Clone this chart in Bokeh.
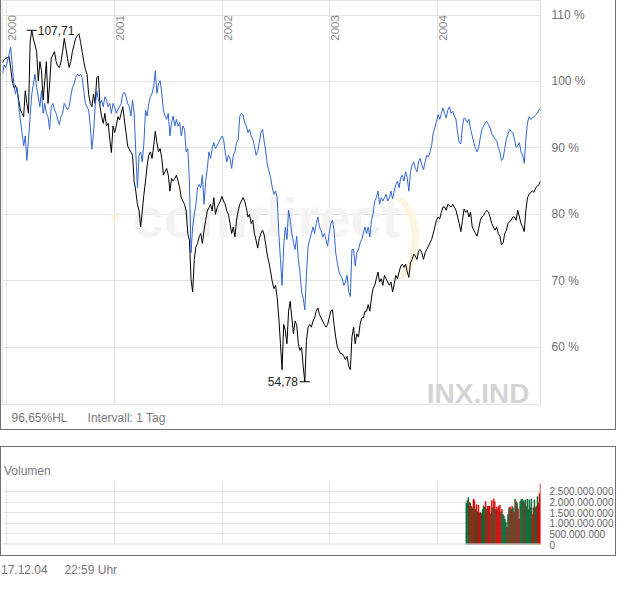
import numpy as np
import pandas as pd
from math import pi
from bokeh.plotting import figure
from bokeh.models import (Range1d, LinearAxis, DatetimeAxis, FixedTicker, CustomJSTickFormatter,
                          Label, Span, Div, Spacer, Title)
from bokeh.layouts import column
from bokeh.embed import file_html
from bokeh.resources import INLINE
from bokeh.core.properties import value

# ---------------- data ----------------
START = "1999-12-17"
END = "2004-12-17"

# INX.IND (black), percent of start
black = [
    102.8, 103.3, 103.5, 103.6, 103.8, 102.1, 100.1, 99.1, 99.4, 98.6,
    97.2, 95.7, 95.2, 94.7, 98.6, 96.7, 95.2, 106.0, 107.71, 106.4,
    105.5, 104.5, 100.1, 103.0, 101.6, 97.2, 100.1, 103.0, 96.7, 99.6,
    103.5, 104.0, 104.5, 103.0, 102.3, 102.1, 103.0, 104.5, 106.5, 105.0,
    103.5, 102.1, 103.0, 104.5, 105.5, 106.5, 106.9, 107.2, 106.0, 104.5,
    103.0, 101.8, 101.1, 98.1, 96.7, 96.2, 98.1, 96.7, 100.6, 100.8,
    96.2, 94.7, 93.7, 95.2, 93.3, 93.7, 91.3, 89.3, 93.3, 92.3,
    93.3, 94.7, 94.2, 95.2, 96.2, 94.2, 92.3, 90.3, 89.8, 89.4,
    88.9, 85.0, 83.5, 81.5, 80.5, 78.1, 80.5, 83.0, 85.0, 87.4,
    88.9, 89.4, 88.4, 90.3, 92.5, 90.8, 89.4, 89.9, 88.4, 85.9,
    86.4, 86.9, 85.9, 83.5, 85.4, 85.0, 85.4, 85.9, 85.0, 84.0,
    82.5, 82.0, 81.5, 80.5, 77.1, 76.1, 70.2, 68.3, 73.2, 75.1,
    75.6, 76.6, 77.1, 75.6, 77.6, 79.1, 80.5, 81.0, 81.5, 80.5,
    82.5, 80.0, 81.0, 81.5, 82.0, 82.7, 82.0, 81.5, 80.5, 80.0,
    78.6, 77.1, 78.1, 76.6, 79.1, 80.5, 81.5, 82.0, 82.5, 82.0,
    81.0, 79.6, 80.0, 78.6, 79.1, 77.1, 76.1, 74.9, 76.4, 77.1,
    77.6, 76.9, 75.4, 73.7, 72.7, 71.3, 69.8, 68.8, 69.3, 67.4,
    64.4, 60.5, 56.6, 63.4, 62.5, 60.5, 65.4, 66.9, 64.4, 62.0,
    63.9, 63.4, 60.5, 59.5, 60.0, 57.1, 54.78, 61.0, 63.0, 63.4,
    63.0, 63.9, 64.4, 65.4, 65.9, 64.9, 64.4, 63.9, 63.4, 63.0,
    63.4, 64.4, 65.4, 65.6, 63.4, 61.5, 60.0, 59.5, 59.0, 59.0,
    58.6, 58.1, 58.6, 57.1, 56.6, 61.5, 63.0, 60.5, 62.0, 61.5,
    63.4, 64.4, 64.4, 65.4, 65.4, 66.4, 65.4, 67.4, 68.8, 69.3,
    70.3, 71.3, 69.8, 70.3, 69.3, 70.8, 70.3, 69.8, 69.3, 69.8,
    68.3, 69.5, 70.8, 70.3, 71.3, 72.2, 72.5, 72.0, 72.5, 71.3,
    70.5, 72.7, 73.2, 74.0, 73.7, 73.2, 74.5, 74.7, 74.2, 73.2,
    74.2, 74.7, 75.2, 75.7, 76.2, 77.1, 78.1, 79.1, 79.6, 79.3,
    80.3, 81.1, 81.1, 80.6, 81.5, 81.3, 81.1, 81.5, 81.1, 80.6,
    79.6, 78.6, 77.4, 79.1, 80.8, 80.3, 80.6, 79.6, 80.3, 78.1,
    77.6, 77.1, 76.7, 77.9, 79.1, 79.6, 79.8, 80.3, 80.6, 80.3,
    79.6, 78.6, 78.1, 77.6, 78.1, 77.1, 76.7, 75.4, 75.7, 77.1,
    77.6, 78.6, 78.9, 79.1, 79.6, 79.6, 79.1, 80.6, 79.6, 78.6,
    78.1, 77.4, 80.6, 82.5, 83.0, 83.3, 83.5, 83.3, 84.0, 84.2,
    84.5, 85.0,
]

# comparison series (blue), percent of start
blue = [
    101.1, 102.5, 102.1, 103.0, 104.0, 105.2, 102.5, 99.6, 98.1, 99.1,
    96.2, 94.2, 92.3, 90.3, 91.8, 88.1, 91.3, 94.7, 98.1, 99.6,
    101.1, 99.1, 97.7, 96.2, 98.6, 95.2, 96.7, 95.2, 94.7, 92.8,
    96.2, 96.7, 95.7, 95.2, 94.2, 93.5, 94.7, 95.2, 96.7, 96.2,
    95.7, 96.2, 97.7, 99.1, 99.6, 100.6, 101.1, 100.8, 101.1, 100.6,
    98.6, 96.7, 96.2, 95.7, 93.3, 89.8, 92.3, 96.2, 98.6, 97.2,
    96.7, 97.2, 96.2, 97.7, 97.2, 96.2, 96.7, 95.2, 96.7, 96.2,
    95.2, 95.7, 96.2, 96.7, 98.1, 98.4, 97.7, 96.7, 96.2, 94.8,
    97.2, 95.2, 89.4, 84.0, 88.9, 89.4, 87.9, 90.8, 95.7, 94.8,
    96.7, 97.7, 98.2, 99.2, 101.6, 98.2, 99.7, 100.1, 98.2, 95.7,
    94.8, 94.3, 95.2, 91.8, 93.8, 94.8, 93.3, 94.3, 93.3, 93.8,
    91.8, 93.3, 92.8, 89.4, 89.9, 85.0, 74.2, 78.1, 80.0, 81.5,
    84.0, 84.5, 84.0, 85.9, 81.5, 85.0, 86.9, 89.4, 88.4, 89.9,
    90.8, 89.9, 90.3, 90.8, 91.3, 91.8, 91.3, 89.4, 87.9, 88.9,
    88.4, 86.9, 88.9, 89.4, 90.8, 91.3, 94.8, 95.2, 95.0, 93.8,
    93.3, 92.3, 92.8, 91.8, 91.3, 90.3, 88.9, 89.5, 90.8, 92.3,
    92.8, 91.0, 89.4, 87.4, 86.4, 85.5, 84.0, 83.0, 83.5, 82.5,
    77.1, 73.2, 69.3, 75.2, 78.1, 76.2, 80.6, 79.1, 77.1, 75.7,
    74.7, 76.7, 73.2, 71.3, 68.3, 67.4, 65.6, 70.8, 75.2, 76.2,
    77.1, 78.1, 77.1, 78.6, 79.6, 78.1, 77.6, 76.6, 77.1, 76.2,
    75.2, 77.1, 78.6, 79.1, 77.6, 74.2, 72.7, 71.3, 70.8, 70.3,
    69.3, 69.8, 70.8, 68.3, 67.6, 74.7, 74.7, 72.2, 74.2, 74.7,
    75.7, 76.2, 77.1, 78.1, 77.1, 78.1, 76.6, 79.1, 80.1, 82.0,
    82.5, 83.5, 81.5, 82.5, 82.0, 82.5, 83.0, 82.0, 82.5, 83.5,
    82.3, 83.5, 84.5, 85.0, 84.0, 85.5, 85.9, 85.0, 86.4, 85.5,
    83.5, 86.4, 87.4, 87.9, 86.9, 86.4, 87.9, 88.4, 87.4, 86.7,
    87.9, 88.9, 88.6, 89.4, 90.3, 92.3, 93.0, 94.0, 95.0, 94.3,
    95.2, 96.0, 95.2, 94.5, 95.7, 96.2, 95.2, 95.5, 94.7, 94.3,
    92.3, 90.8, 90.6, 93.3, 94.5, 94.3, 93.8, 94.3, 92.8, 91.8,
    90.8, 89.9, 89.4, 90.1, 91.6, 92.8, 93.3, 93.8, 94.0, 93.5,
    93.0, 92.1, 91.8, 91.3, 91.1, 90.1, 89.4, 88.1, 88.4, 89.9,
    91.3, 92.1, 92.8, 92.5, 92.3, 91.3, 90.1, 90.3, 90.8, 89.4,
    88.9, 87.7, 91.3, 93.8, 94.7, 94.3, 94.5, 94.7, 95.0, 95.2,
    95.7, 96.0,
]

year_labels = ["2000", "2001", "2002", "2003", "2004"]
pct_ticks = [60, 70, 80, 90, 100, 110]

# volume (billions), direction of the day
VOL_START = "2004-04-09"
vol_values = [
    1.95, 2.07, 2.21, 1.98, 1.95, 1.80, 1.73, 2.14, 2.08, 1.65,
    1.88, 1.53, 1.86, 1.50, 1.50, 1.47, 1.65, 1.83, 1.77, 2.03,
    1.65, 1.80, 1.80, 1.80, 1.45, 2.08, 1.73, 2.15, 2.02, 1.65,
    1.77, 1.65, 1.80, 1.86, 1.53, 1.65, 1.42, 1.35, 1.20, 1.05,
    0.82, 1.42, 1.73, 1.77, 1.65, 1.80, 1.73, 1.53, 2.14, 2.03,
    1.95, 1.68, 1.20, 2.03, 2.11, 2.14, 2.08, 1.98, 2.11, 1.80,
    2.14, 1.65, 2.11, 1.73, 2.15, 1.42, 1.73, 2.11, 1.73, 1.80,
    2.26, 1.95, 2.41, 2.86,
]
vol_dir = [
    "g", "g", "g", "r", "g", "r", "g", "r", "r", "g",
    "r", "g", "r", "r", "g", "r", "g", "g", "g", "r",
    "g", "r", "r", "r", "g", "r", "g", "r", "r", "g",
    "r", "r", "r", "r", "g", "r", "g", "g", "g", "g",
    "r", "g", "g", "r", "g", "r", "g", "r", "g", "r",
    "g", "r", "r", "g", "g", "g", "g", "r", "g", "g",
    "g", "g", "g", "g", "g", "r", "r", "g", "g", "r",
    "g", "r", "r", "r",
]
vol_ticks = [0, 500_000_000, 1_000_000_000, 1_500_000_000, 2_000_000_000, 2_500_000_000]

# ---------------- derived ----------------
FONT = "Liberation Sans"
GRID = "#e4e4e4"
dates = pd.date_range(START, END, periods=len(black))
year_dates = pd.to_datetime([f"{y}-01-01" for y in year_labels])
year_ms = [t.timestamp() * 1000 for t in year_dates]
vol_dates = pd.date_range(VOL_START, END, periods=len(vol_values))
vol_top = [x * 1e9 for x in vol_values]
vol_colors = ["#006633" if d == "g" else "#d40000" for d in vol_dir]
bar_w = (vol_dates[1] - vol_dates[0]).total_seconds() * 1000 * 0.9

xr = Range1d(dates[0], dates[-1])
BORDER = "1px solid #707070"

# ---------------- main chart ----------------
p = figure(x_axis_type="datetime", x_axis_location=None, y_axis_location=None,
           width=616, height=430, sizing_mode="fixed",
           min_border_left=1, min_border_right=77, min_border_top=0, min_border_bottom=26,
           x_range=xr, y_range=Range1d(51.35, 112.2),
           output_backend="svg", toolbar_location=None,
           background_fill_color="white", border_fill_color="white",
           outline_line_color="#e2e2e2")
p.styles = {"border-left": BORDER, "border-right": BORDER, "border-bottom": BORDER}
p.xgrid.ticker = FixedTicker(ticks=year_ms)
p.ygrid.ticker = FixedTicker(ticks=pct_ticks)
p.xgrid.grid_line_color = GRID
p.ygrid.grid_line_color = GRID

yax = LinearAxis(ticker=FixedTicker(ticks=pct_ticks),
                 formatter=CustomJSTickFormatter(code="return tick + ' %'"))
yax.axis_line_color = None
yax.major_tick_line_color = None
yax.minor_tick_line_color = None
yax.major_label_text_font = FONT
yax.major_label_text_font_size = "12px"
yax.major_label_text_color = "#707070"
yax.major_label_standoff = 5
p.add_layout(yax, "right")

# blank bottom axis (invisible tick, empty label) keeps a small gap under the frame
xax = DatetimeAxis(ticker=FixedTicker(ticks=[year_ms[2]]),
                   formatter=CustomJSTickFormatter(code="return ''"))
xax.axis_line_color = None
xax.major_tick_line_color = None
xax.minor_tick_line_color = None
xax.major_tick_out = 4
xax.major_tick_in = 0
xax.minor_tick_out = 0
xax.major_label_standoff = 0
p.add_layout(xax, "below")

p.add_layout(Title(text="96,65%HL\u00a0\u00a0\u00a0\u00a0\u00a0\u00a0Intervall: 1 Tag",
                   align="left", offset=9, standoff=3, vertical_align="middle",
                   text_font=FONT, text_font_size="12px", text_font_style="normal",
                   text_color="#7a7a7a"), "below")

# watermark
p.add_layout(Label(x=264, y=187, x_units="screen", y_units="screen", text="comdirect",
                   text_font=FONT, text_font_style="bold", text_font_size="56px",
                   text_color="#f3f3f3", text_align="center", text_baseline="alphabetic",
                   level="underlay"))
p.add_layout(Label(x=112, y=199, x_units="screen", y_units="screen", text=".",
                   text_font=FONT, text_font_style="bold", text_font_size="40px",
                   text_color="#fcf5dc", text_align="center", text_baseline="alphabetic",
                   level="underlay"))
p.add_layout(Label(x=393, y=174, x_units="screen", y_units="screen", text=")",
                   text_font=FONT, text_font_size="88px",
                   text_color="#fcf6e0", text_align="left", text_baseline="alphabetic",
                   level="underlay"))
p.add_layout(Label(x=527, y=11, x_units="screen", y_units="screen", text="INX.IND",
                   text_font=FONT, text_font_style="bold", text_font_size="28px",
                   text_color="#d4d4d4", text_align="right", text_baseline="alphabetic",
                   level="underlay"))

# year labels inside the plot
p.text(x=year_dates, y=[pct_ticks[-1]] * len(year_labels), text=year_labels,
       angle=pi / 2, text_align="right", text_baseline="top", x_offset=1.5,
       text_font=value(FONT), text_font_size="11.5px", text_color="#8a8a8a")

p.line(dates, black, line_color="black", line_width=1)
p.line(dates, blue, line_color="#3366cc", line_width=1)

# high / low markers
def de(x):
    return f"{x:.2f}".replace(".", ",")

hi = int(np.argmax(black))
lo = int(np.argmin(black))
p.scatter([dates[hi], dates[lo]], [black[hi], black[lo]], marker="dash", size=10,
          line_color="black", line_width=1)
p.text([dates[hi]], [black[hi]], text=[de(black[hi])], x_offset=6,
       text_align="left", text_baseline="middle", text_font=value(FONT),
       text_font_size="12px", text_color="#222222")
p.text([dates[lo]], [black[lo]], text=[de(black[lo])], x_offset=-7,
       text_align="right", text_baseline="middle", text_font=value(FONT),
       text_font_size="12px", text_color="#222222")

# ---------------- volume chart ----------------
v = figure(x_axis_type="datetime", x_axis_location=None, y_axis_location=None,
           width=616, height=110, sizing_mode="fixed",
           min_border_left=1, min_border_right=77, min_border_top=34, min_border_bottom=13,
           x_range=xr, y_range=Range1d(0, 2.97e9),
           output_backend="svg", toolbar_location=None,
           background_fill_color="white", border_fill_color="white",
           outline_line_color=None)
v.styles = {"border": BORDER}
v.xgrid.ticker = FixedTicker(ticks=year_ms)
v.ygrid.ticker = FixedTicker(ticks=vol_ticks)
v.xgrid.grid_line_color = GRID
v.ygrid.grid_line_color = GRID

vax = LinearAxis(ticker=FixedTicker(ticks=vol_ticks),
                 formatter=CustomJSTickFormatter(
                     code="return Math.round(tick).toString().replace(/\\B(?=(\\d{3})+(?!\\d))/g, '.')"))
vax.axis_line_color = None
vax.major_tick_line_color = None
vax.minor_tick_line_color = None
vax.major_label_text_font = FONT
vax.major_label_text_font_size = "10px"
vax.major_label_text_color = "#666666"
vax.major_label_standoff = 3
v.add_layout(vax, "right")

v.add_layout(Title(text="Volumen", align="left", offset=1.5, standoff=6,
                   vertical_align="middle", text_font=FONT, text_font_size="12px",
                   text_font_style="normal", text_color="#7a7a7a"), "above")

v.add_layout(Span(location=0, dimension="width", line_color="#dddddd", line_width=2))
v.vbar(x=vol_dates, top=vol_top, width=bar_w, fill_color=vol_colors,
       line_color=vol_colors, line_width=0.5)

footer = Div(text="17.12.04&nbsp;&nbsp;&nbsp;&nbsp; 22:59 Uhr", width=300, height=16,
             margin=(0, 0, 0, 1),
             styles={"font-family": FONT, "font-size": "12px", "color": "#777777",
                     "line-height": "16px"})

layout = column(p, Spacer(width=618, height=16), v, Spacer(width=618, height=6), footer,
                sizing_mode="fixed", width=618)
open("out.html", "w").write(file_html(layout, INLINE))
